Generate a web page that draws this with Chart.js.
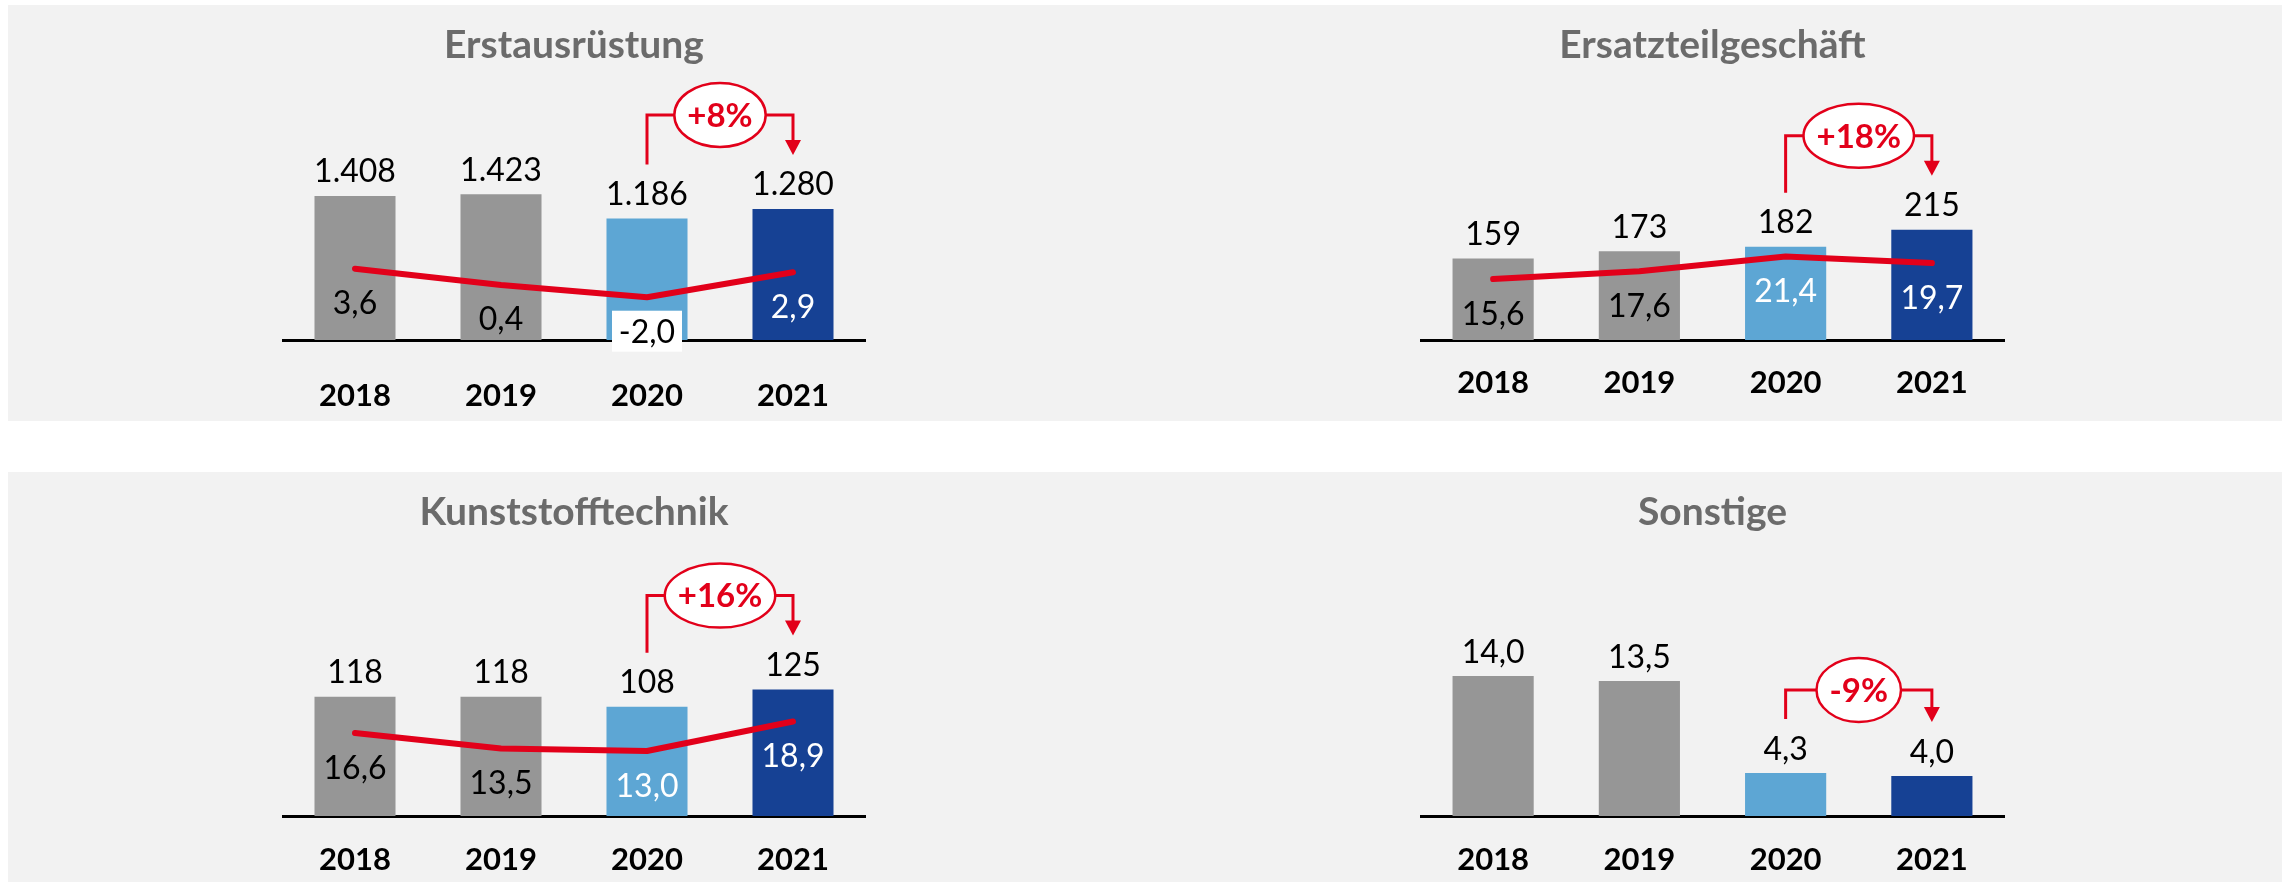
<!DOCTYPE html>
<html lang="de">
<head>
<meta charset="utf-8">
<title>Segmente 2018–2021</title>
<script src="https://cdn.jsdelivr.net/npm/chart.js@4.4.1/dist/chart.umd.min.js"></script>
<style>
  html, body { margin: 0; padding: 0; background: #fff; }
  body { width: 2290px; height: 882px; position: relative; overflow: hidden; }
  .band { position: absolute; left: 8px; width: 2274px; background: #f2f2f2; }
  .panel { position: absolute; }
</style>
</head>
<body>
<div class="band" style="top:5px;height:416px"></div>
<div class="band" style="top:472px;height:410px"></div>
<div class="panel" style="left:282px;top:5px;width:584px;height:416px"><canvas id="erstausruestung"></canvas></div>
<div class="panel" style="left:1420px;top:5px;width:585px;height:416px"><canvas id="ersatzteile"></canvas></div>
<div class="panel" style="left:282px;top:472px;width:584px;height:410px"><canvas id="kunststoff"></canvas></div>
<div class="panel" style="left:1420px;top:472px;width:585px;height:410px"><canvas id="sonstige"></canvas></div>
<script>
// Umsatz (Balken) und Marge in % (Linie) je Segment
const years = ['2018', '2019', '2020', '2021'];
const erstausruestungUmsatz = [1408, 1423, 1186, 1280];
const erstausruestungMarge = [3.6, 0.4, -2.0, 2.9];
const ersatzteileUmsatz = [159, 173, 182, 215];
const ersatzteileMarge = [15.6, 17.6, 21.4, 19.7];
const kunststoffUmsatz = [118, 118, 108, 125];
const kunststoffMarge = [16.6, 13.5, 13.0, 18.9];
const sonstigeUmsatz = [14.0, 13.5, 4.3, 4.0];
const wachstum = ['+8%', '+18%', '+16%', '-9%'];

const RED = '#e2001a';
const FONT = 'Lato, "Open Sans", sans-serif';
const barColors = ['#969696', '#969696', '#5da6d4', '#164194'];

const panels = [
  { id: 'erstausruestung', title: 'Erstausrüstung', sales: erstausruestungUmsatz, margin: erstausruestungMarge,
    growth: wachstum[0], decimals: 0, yMax: 2589, y2: [-10.39, 41.57], axisH: 81, tickPad: 29,
    marginColors: ['#000', '#000', '#000', '#fff'], boxed: 2, bracketRise: 40 },
  { id: 'ersatzteile', title: 'Ersatzteilgeschäft', sales: ersatzteileUmsatz, margin: ersatzteileMarge,
    growth: wachstum[1], decimals: 0, yMax: 517, y2: [0, 67.9], axisH: 81, tickPad: 16,
    marginColors: ['#000', '#000', '#fff', '#fff'], boxed: -1, bracketRise: 40 },
  { id: 'kunststoff', title: 'Kunststofftechnik', sales: kunststoffUmsatz, margin: kunststoffMarge,
    growth: wachstum[2], decimals: 0, yMax: 271, y2: [0, 54.8], axisH: 66, tickPad: 17,
    marginColors: ['#000', '#000', '#fff', '#fff'], boxed: -1, bracketRise: 40 },
  { id: 'sonstige', title: 'Sonstige', sales: sonstigeUmsatz, margin: null,
    growth: wachstum[3], decimals: 1, yMax: 27.4, y2: [0, 10], axisH: 66, tickPad: 17,
    marginColors: [], boxed: -1, bracketRise: 29 }
];

// deutsche Zahlenformatierung: 1.408 / 3,6
function fmt(v, decimals) {
  const s = Math.abs(v).toFixed(decimals);
  let [int, frac] = s.split('.');
  int = int.replace(/\B(?=(\d{3})+(?!\d))/g, '.');
  return (v < 0 ? '-' : '') + int + (frac ? ',' + frac : '');
}

function labelsPlugin(p) {
  return {
    id: 'segmentLabels',
    afterDatasetsDraw(chart) {
      const ctx = chart.ctx;
      const bars = chart.getDatasetMeta(0).data;
      ctx.save();
      ctx.textAlign = 'center';
      ctx.textBaseline = 'alphabetic';
      ctx.font = '32px ' + FONT;

      // Umsatz über den Balken
      ctx.fillStyle = '#000';
      bars.forEach((bar, i) => {
        ctx.fillText(fmt(p.sales[i], p.decimals), bar.x, bar.y - 25 + 11.5);
      });

      // Marge unter der Linie
      if (p.margin) {
        const pts = chart.getDatasetMeta(1).data;
        pts.forEach((pt, i) => {
          const cy = pt.y + 34;
          if (i === p.boxed) {
            ctx.fillStyle = '#fff';
            ctx.fillRect(pt.x - 35, cy - 20.5, 70, 41);
          }
          ctx.fillStyle = p.marginColors[i];
          ctx.fillText(fmt(p.margin[i], 1), pt.x, cy + 11.5);
        });
      }

      // Wachstumspfeil 2020 -> 2021
      const a = bars[2], b = bars[3];
      const startY = a.y - 54;
      const tipY = b.y - 54;
      const by = Math.min(startY, tipY) - p.bracketRise;
      const cx = (a.x + b.x) / 2;
      ctx.font = 'bold 33px ' + FONT;
      const rx = ctx.measureText(p.growth).width / 2 + 13;
      const ry = 32;

      ctx.strokeStyle = RED;
      ctx.lineWidth = 3;
      ctx.beginPath();
      ctx.moveTo(a.x, startY);
      ctx.lineTo(a.x, by);
      ctx.lineTo(cx - rx, by);
      ctx.moveTo(cx + rx, by);
      ctx.lineTo(b.x, by);
      ctx.lineTo(b.x, tipY - 14);
      ctx.stroke();

      ctx.fillStyle = RED;
      ctx.beginPath();
      ctx.moveTo(b.x - 8, tipY - 15);
      ctx.lineTo(b.x + 8, tipY - 15);
      ctx.lineTo(b.x, tipY);
      ctx.closePath();
      ctx.fill();

      ctx.beginPath();
      ctx.ellipse(cx, by, rx, ry, 0, 0, Math.PI * 2);
      ctx.fillStyle = '#fff';
      ctx.fill();
      ctx.lineWidth = 2.5;
      ctx.stroke();

      ctx.fillStyle = RED;
      ctx.fillText(p.growth, cx, by + 11.8);
      ctx.restore();
    }
  };
}

function buildPanel(p) {
  const datasets = [{
    type: 'bar',
    data: p.sales,
    backgroundColor: barColors,
    yAxisID: 'y',
    order: 1,
    barPercentage: 0.555,
    categoryPercentage: 1
  }];
  if (p.margin) {
    datasets.push({
      type: 'line',
      data: p.margin,
      yAxisID: 'y2',
      order: 0,
      borderColor: RED,
      borderWidth: 6,
      borderCapStyle: 'round',
      borderJoinStyle: 'round',
      pointRadius: 0,
      tension: 0
    });
  }

  new Chart(document.getElementById(p.id), {
    type: 'bar',
    data: { labels: years, datasets },
    options: {
      responsive: true,
      maintainAspectRatio: false,
      animation: false,
      layout: { padding: 0 },
      plugins: {
        legend: { display: false },
        tooltip: { enabled: false },
        title: {
          display: true,
          text: p.title,
          color: '#6b6b6b',
          font: { family: FONT, size: 39, weight: 'bold', lineHeight: 1.2 },
          padding: { top: 17, bottom: 6.2 }
        }
      },
      scales: {
        x: {
          grid: { display: false },
          border: { display: true, color: '#000', width: 3 },
          ticks: {
            color: '#000',
            padding: p.tickPad,
            font: { family: FONT, size: 31, weight: 'bold' }
          },
          afterFit(scale) { scale.height = p.axisH; }
        },
        y: { display: false, min: 0, max: p.yMax },
        y2: { display: false, min: p.y2[0], max: p.y2[1] }
      }
    },
    plugins: [labelsPlugin(p)]
  });
}

panels.forEach(buildPanel);
</script>
</body>
</html>
